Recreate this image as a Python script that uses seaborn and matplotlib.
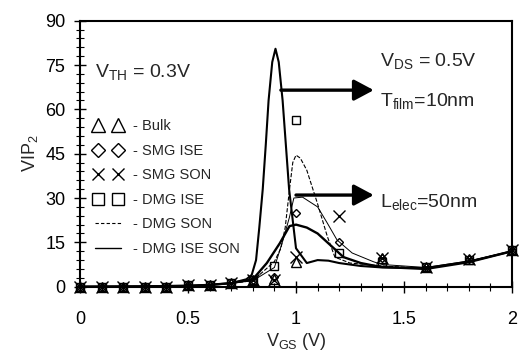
import numpy as np
import matplotlib
matplotlib.use('Agg')
import matplotlib.pyplot as plt
import matplotlib.lines as mlines
from matplotlib.legend_handler import HandlerLine2D
import seaborn as sns

# marker series (VIP2 vs VGS)
x_pts = [0, 0.1, 0.2, 0.3, 0.4, 0.5, 0.6, 0.7, 0.8, 0.9, 1.0, 1.2, 1.4, 1.6, 1.8, 2.0]
bulk = [0, 0, 0, 0, 0, 0.5, 0.6, 1.2, 2.2, 2.5, 8.3, np.nan, 9.8, 6.8, 9.2, 12.5]
smg_ise = [0, 0, 0, 0, 0, 0.5, 0.6, 1.2, 2.2, 3.3, 24.8, 15.2, 9.8, 6.8, 9.2, 12.5]
smg_son = [0, 0, 0, 0, 0, 0.5, 0.6, 1.2, 2.2, 2.3, 10.0, 24.0, 9.8, 6.8, 9.2, 12.5]
dmg_ise = [0, 0, 0, 0, 0, 0.5, 0.6, 1.2, 2.2, 7.0, 56.5, 11.5, 8.3, 6.8, 9.0, 12.5]

# DMG ISE SON curve (tall peak)
peak_x = [0, 0.3, 0.5, 0.6, 0.7, 0.77, 0.795, 0.815, 0.83, 0.846, 0.86, 0.873, 0.89,
          0.905, 0.92, 0.938, 0.968, 1.0, 1.05, 1.1, 1.15, 1.2, 1.3, 1.4, 1.6, 1.8, 2.0]
peak_y = [0, 0.1, 0.3, 0.6, 1.2, 2.5, 4.0, 9.0, 20.0, 33.0, 48.0, 63.0, 76.0,
          80.5, 76.0, 63.0, 33.0, 13.0, 8.0, 9.0, 8.8, 8.0, 7.0, 6.5, 6.3, 8.5, 12.0]

# DMG SON curve (dashed)
son_x = [0, 0.3, 0.5, 0.6, 0.7, 0.8, 0.9, 0.93, 0.95, 0.97, 0.985, 1.0, 1.02,
         1.05, 1.1, 1.145, 1.18, 1.25, 1.4, 1.6, 1.8, 2.0]
son_y = [0, 0.1, 0.3, 0.6, 1.2, 2.0, 8.5, 13.0, 20.0, 33.0, 42.0, 44.5, 43.5,
         39.4, 28.0, 17.0, 10.0, 8.0, 7.0, 6.2, 8.5, 12.0]

# thin solid curve
thin_x = [0, 0.3, 0.5, 0.6, 0.7, 0.8, 0.9, 0.94, 0.97, 0.99, 1.03, 1.1, 1.145,
          1.19, 1.26, 1.36, 1.4, 1.6, 1.8, 2.0]
thin_y = [0, 0.1, 0.3, 0.6, 1.2, 2.0, 6.5, 15.8, 23.6, 30.0, 30.3, 27.0, 21.5,
          15.8, 11.4, 8.4, 7.5, 6.5, 8.7, 12.0]

# thick solid curve
thick_x = [0, 0.3, 0.5, 0.6, 0.7, 0.8, 0.865, 0.925, 0.97, 1.0, 1.05, 1.1, 1.16,
           1.22, 1.3, 1.39, 1.6, 1.8, 2.0]
thick_y = [0, 0.1, 0.3, 0.6, 1.2, 2.5, 8.0, 14.7, 20.5, 21.0, 20.0, 18.0, 14.0,
           10.0, 8.0, 6.7, 6.0, 8.3, 12.0]

legend_labels = ['- Bulk', '- SMG ISE', '- SMG SON', '- DMG ISE', '- DMG SON', '- DMG ISE SON']

sns.set_style('ticks')
plt.rcParams['font.family'] = ['Liberation Sans', 'DejaVu Sans']
plt.rcParams['mathtext.fontset'] = 'custom'
plt.rcParams['mathtext.rm'] = 'Liberation Sans'
plt.rcParams['mathtext.it'] = 'Liberation Sans:italic'
plt.rcParams['mathtext.bf'] = 'Liberation Sans:bold'

fig = plt.figure(figsize=(5.21, 3.56), dpi=100)
ax = fig.add_axes([0.1536, 0.1947, 0.8291, 0.7472])

# curves
sns.lineplot(x=thin_x, y=thin_y, ax=ax, color='black', lw=0.7, sort=False)
sns.lineplot(x=thick_x, y=thick_y, ax=ax, color='black', lw=1.7, sort=False)
sns.lineplot(x=son_x, y=son_y, ax=ax, color='black', lw=0.8, sort=False,
             dashes=(5, 3), linestyle='--')
sns.lineplot(x=peak_x, y=peak_y, ax=ax, color='black', lw=1.5, sort=False)

# marker series
mk = dict(linestyle='', color='black', mfc='none', mec='black', mew=1.0, sort=False)
sns.lineplot(x=x_pts, y=bulk, ax=ax, marker='^', ms=6.5, **mk)
sns.lineplot(x=x_pts, y=smg_ise, ax=ax, marker='D', ms=4.5, **mk)
sns.lineplot(x=x_pts, y=smg_son, ax=ax, marker='x', ms=8, **mk)
sns.lineplot(x=x_pts, y=dmg_ise, ax=ax, marker='s', ms=5.5, **mk)
for ln in ax.lines:
    ln.set_clip_on(False)

ax.set_xlim(0, 2)
ax.set_ylim(0, 90)
ax.set_xticks([0, 0.5, 1, 1.5, 2])
ax.set_xticklabels(['0', '0.5', '1', '1.5', '2'])
ax.set_yticks(np.arange(0, 91, 15))
ax.set_xticks(np.arange(0, 2.01, 0.1), minor=True)
ax.set_yticks(np.arange(0, 91, 3), minor=True)
ax.tick_params(which='major', direction='inout', length=9, width=1.0,
               labelsize=13, pad=6, colors='black')
ax.tick_params(which='minor', direction='inout', length=6, width=0.8, colors='black')
ax.tick_params(axis='x', pad=13)
for s in ax.spines.values():
    s.set_linewidth(1.5)
    s.set_color('black')

ax.set_xlabel(r'$\mathrm{V_{GS}}$ (V)', fontsize=13, labelpad=2)
ax.set_ylabel(r'VIP$_{\mathrm{2}}$', fontsize=13, labelpad=4)

# annotations
ax.text(0.07, 71, r'$\mathrm{V_{TH}}$ = 0.3V', fontsize=14, va='baseline')
ax.text(1.39, 74.5, r'$\mathrm{V_{DS}}$ = 0.5V', fontsize=14, va='baseline')
ax.text(1.39, 61, r'$\mathrm{T_{film}}$=10nm', fontsize=14, va='baseline')
ax.text(1.39, 27, r'$\mathrm{L_{elec}}$=50nm', fontsize=14, va='baseline')
arrow = dict(arrowstyle='-|>,head_length=0.75,head_width=0.4', lw=2.4, color='black',
             mutation_scale=16, shrinkA=0, shrinkB=0)
ax.annotate('', xy=(1.36, 66.5), xytext=(0.93, 66.5), arrowprops=arrow)
ax.annotate('', xy=(1.36, 31), xytext=(1.0, 31), arrowprops=arrow)

# legend
handles = [
    mlines.Line2D([], [], color='black', linestyle='', marker='^', ms=10, mfc='none', mew=1.0),
    mlines.Line2D([], [], color='black', linestyle='', marker='D', ms=7.5, mfc='none', mew=1.0),
    mlines.Line2D([], [], color='black', linestyle='', marker='x', ms=8.5, mew=1.0),
    mlines.Line2D([], [], color='black', linestyle='', marker='s', ms=9, mfc='none', mew=1.0),
    mlines.Line2D([], [], color='black', linestyle='--', dashes=(3, 2), lw=0.8),
    mlines.Line2D([], [], color='black', linestyle='-', lw=1.0),
]
hmap = {h: HandlerLine2D(marker_pad=0.5, numpoints=2) for h in handles[:4]}
ax.legend(handles=handles, labels=legend_labels, loc='upper left',
          bbox_to_anchor=(0.0, 0.668), frameon=False, numpoints=2,
          handlelength=2.4, handletextpad=0.5, labelspacing=0.72,
          fontsize=10.5, borderaxespad=0.3, handler_map=hmap)

fig.savefig('out.png', dpi=100)
